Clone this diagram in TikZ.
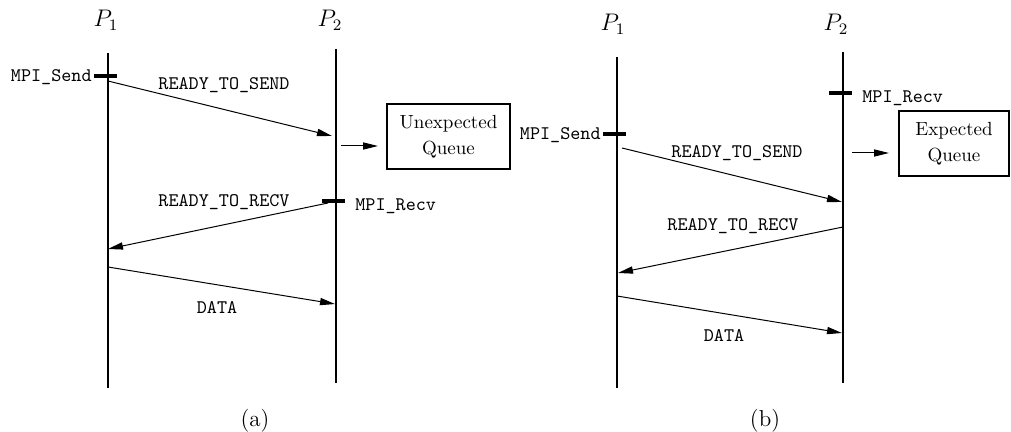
\documentclass[tikz,border=0pt]{standalone}
\usetikzlibrary{arrows.meta}
\begin{document}
\begin{tikzpicture}[x=0.5pt,y=-0.5pt,
  life/.style={line width=0.9pt},
  msg/.style={line width=0.5pt,-{Triangle[length=7.5pt,width=3.6pt]}},
  tickmark/.style={line width=2pt},
  lbl/.style={font=\fontsize{9.6}{11}\selectfont\ttfamily, inner sep=0pt},
  proc/.style={font=\fontsize{11.5}{13}\selectfont, inner sep=0pt, anchor=base},
  subcap/.style={font=\fontsize{11.5}{13}\selectfont, inner sep=0pt, anchor=base},
  queue/.style={draw, line width=0.6pt, inner sep=0pt, align=center,
    font=\fontsize{9.5}{13}\selectfont}
]
\useasboundingbox (0,0) rectangle (1011,432);

% ---------- panel (a) ----------
\node[proc] (aP1) at (106,27) {$P_1$};
\node[proc] (aP2) at (330,27) {$P_2$};
\coordinate (a1t) at (108,53);  \coordinate (a1b) at (108,388);
\coordinate (a2t) at (336,49);  \coordinate (a2b) at (336,383);
\draw[life] (a1t) -- (a1b);
\draw[life] (a2t) -- (a2b);

\coordinate (asL) at (94,76);  \coordinate (asR) at (117,76);
\draw[tickmark] (asL) -- (asR);
\node[lbl, anchor=east] (asend) at (92,77) {MPI\_Send};

\coordinate (arL) at (322,201); \coordinate (arR) at (345,201);
\draw[tickmark] (arL) -- (arR);
\node[lbl, anchor=west] (arecv) at (355,206) {MPI\_Recv};

\coordinate (aRTSs) at (108,81); \coordinate (aRTSe) at (332,136);
\draw[msg] (aRTSs) -- (aRTSe);
\node[lbl, anchor=base] (aRTSl) at (224,90) {READY\_TO\_SEND};

\coordinate (aQs) at (341,146); \coordinate (aQe) at (378,146);
\draw[msg] (aQs) -- (aQe);
\node[queue, minimum width=61.5pt, minimum height=32.5pt] (aQ) at (448.5,136.5) {Unexpected\\Queue};

\coordinate (aRTRs) at (328,203); \coordinate (aRTRe) at (108,249);
\draw[msg] (aRTRs) -- (aRTRe);
\node[lbl, anchor=base] (aRTRl) at (224,207) {READY\_TO\_RECV};

\coordinate (aDs) at (108,267); \coordinate (aDe) at (335,304);
\draw[msg] (aDs) -- (aDe);
\node[lbl, anchor=base] (aDl) at (217,314) {DATA};

\node[subcap] (capa) at (255,426) {(a)};

% ---------- panel (b) ----------
\node[proc] (bP1) at (613,31) {$P_1$};
\node[proc] (bP2) at (836,31) {$P_2$};
\coordinate (b1t) at (617,57);  \coordinate (b1b) at (617,388);
\coordinate (b2t) at (843,52);  \coordinate (b2b) at (843,383);
\draw[life] (b1t) -- (b1b);
\draw[life] (b2t) -- (b2b);

\coordinate (brL) at (829,93); \coordinate (brR) at (852,93);
\draw[tickmark] (brL) -- (brR);
\node[lbl, anchor=west] (brecv) at (862,98) {MPI\_Recv};

\coordinate (bsL) at (603,134); \coordinate (bsR) at (626,134);
\draw[tickmark] (bsL) -- (bsR);
\node[lbl, anchor=east] (bsend) at (601,135) {MPI\_Send};

\coordinate (bRTSs) at (622,148); \coordinate (bRTSe) at (842,202);
\draw[msg] (bRTSs) -- (bRTSe);
\node[lbl, anchor=base] (bRTSl) at (737,158) {READY\_TO\_SEND};

\coordinate (bQs) at (852,153); \coordinate (bQe) at (889,153);
\draw[msg] (bQs) -- (bQe);
\node[queue, minimum width=55pt, minimum height=32.5pt] (bQ) at (954,143.5) {Expected\\Queue};

\coordinate (bRTRs) at (843,227); \coordinate (bRTRe) at (618,273);
\draw[msg] (bRTRs) -- (bRTRe);
\node[lbl, anchor=base] (bRTRl) at (733,231) {READY\_TO\_RECV};

\coordinate (bDs) at (617,296); \coordinate (bDe) at (842,333);
\draw[msg] (bDs) -- (bDe);
\node[lbl, anchor=base] (bDl) at (724,342) {DATA};

\node[subcap] (capb) at (765,426) {(b)};
\end{tikzpicture}
\end{document}
